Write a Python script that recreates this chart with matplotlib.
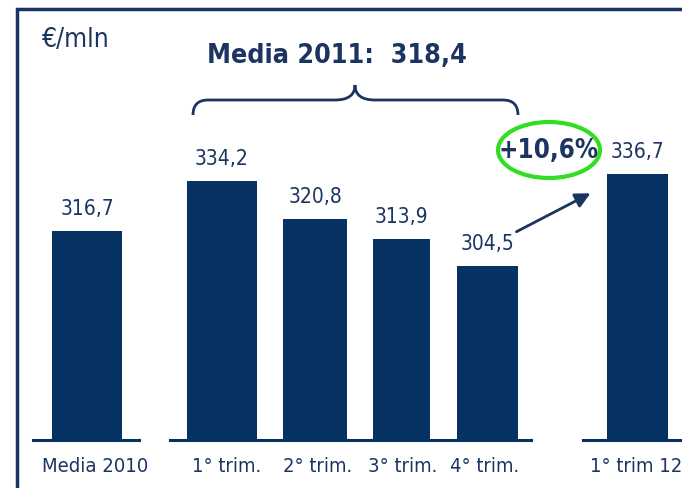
import matplotlib.pyplot as plt
from matplotlib.patches import Ellipse, PathPatch
from matplotlib.path import Path

# data
categories = ["Media 2010", "1° trim.", "2° trim.", "3° trim.", "4° trim.", "1° trim 12"]
values = [316.7, 334.2, 320.8, 313.9, 304.5, 336.7]
value_labels = ["316,7", "334,2", "320,8", "313,9", "304,5", "336,7"]
avg_2011_label = "Media 2011:  318,4"
growth_label = "+10,6%"
unit_label = "€/mln"

# layout (pixel positions on a 682x488 canvas)
W, H = 682, 488
bar_x = [87, 222, 315, 401, 487, 637]
bar_w = [70, 70, 64, 57, 61, 61]
label_x = [95, 227, 318, 403, 485, 636]
base_px = 440           # pixel row of the bar baseline
v0 = 243.6              # value at baseline
k = 2.857               # pixels per unit

NAVY = "#053163"
TXT = "#1B3461"
FONT = dict(family="DejaVu Sans", fontstretch="condensed")

fig = plt.figure(figsize=(W / 100, H / 100), dpi=100)
ax = fig.add_axes([0, 0, 1, 1])
ax.set_xlim(0, W)
ax.set_ylim(v0 - (H - base_px) / k, v0 + base_px / k)
ax.axis("off")

ax.bar(bar_x, [v - v0 for v in values], bottom=v0, width=bar_w, color=NAVY, zorder=2)
for x, v, lab in zip(bar_x, values, value_labels):
    ax.text(x, v + 4.3, lab, ha="center", va="bottom", fontsize=15, color=TXT, **FONT)

# overlay in pixel coords for decorations
ov = fig.add_axes([0, 0, 1, 1])
ov.set_xlim(0, W)
ov.set_ylim(H, 0)
ov.axis("off")
ov.patch.set_alpha(0)

# frame
ov.plot([17, 17, W + 5], [H + 5, 9, 9], color="#1B3461", lw=2.5, solid_joinstyle="miter")

# baselines
for x0, x1 in [(33, 139), (170, 531), (583, W)]:
    ov.plot([x0, x1], [base_px, base_px], color=NAVY, lw=2.2)

for x, c in zip(label_x, categories):
    ov.text(x, 466, c, ha="center", va="center", fontsize=14.5, color=TXT, **FONT)

ov.text(42, 40, unit_label, ha="left", va="center", fontsize=19, color=TXT, **FONT)
ov.text(337, 56, avg_2011_label, ha="center", va="center", fontsize=19.3,
        fontweight="bold", color=TXT, **FONT)

# curly brace
xl, xr, xm = 193, 518, 355
yb, yh, yt = 115, 100, 85
r = 15
verts = [(xl, yb), (xl, yh), (xl + r, yh),
         (xm - 20, yh), (xm, yh), (xm, yt),
         (xm, yh), (xm + 20, yh),
         (xr - r, yh), (xr, yh), (xr, yb)]
codes = [Path.MOVETO, Path.CURVE3, Path.CURVE3,
         Path.LINETO, Path.CURVE3, Path.CURVE3,
         Path.CURVE3, Path.CURVE3,
         Path.LINETO, Path.CURVE3, Path.CURVE3]
ov.add_patch(PathPatch(Path(verts, codes), fill=False, ec=TXT, lw=2))

# growth ellipse
ov.add_patch(Ellipse((549, 150), 102, 56, fill=False, ec="#33DD22", lw=3))
ov.text(549, 151, growth_label, ha="center", va="center", fontsize=18.5,
        fontweight="bold", color=TXT, **FONT)

# arrow
ov.annotate("", xy=(593, 192), xytext=(514, 233),
            arrowprops=dict(arrowstyle="-|>,head_length=0.9,head_width=0.45",
                            color=TXT, lw=2))

fig.savefig("out.png", dpi=100)
